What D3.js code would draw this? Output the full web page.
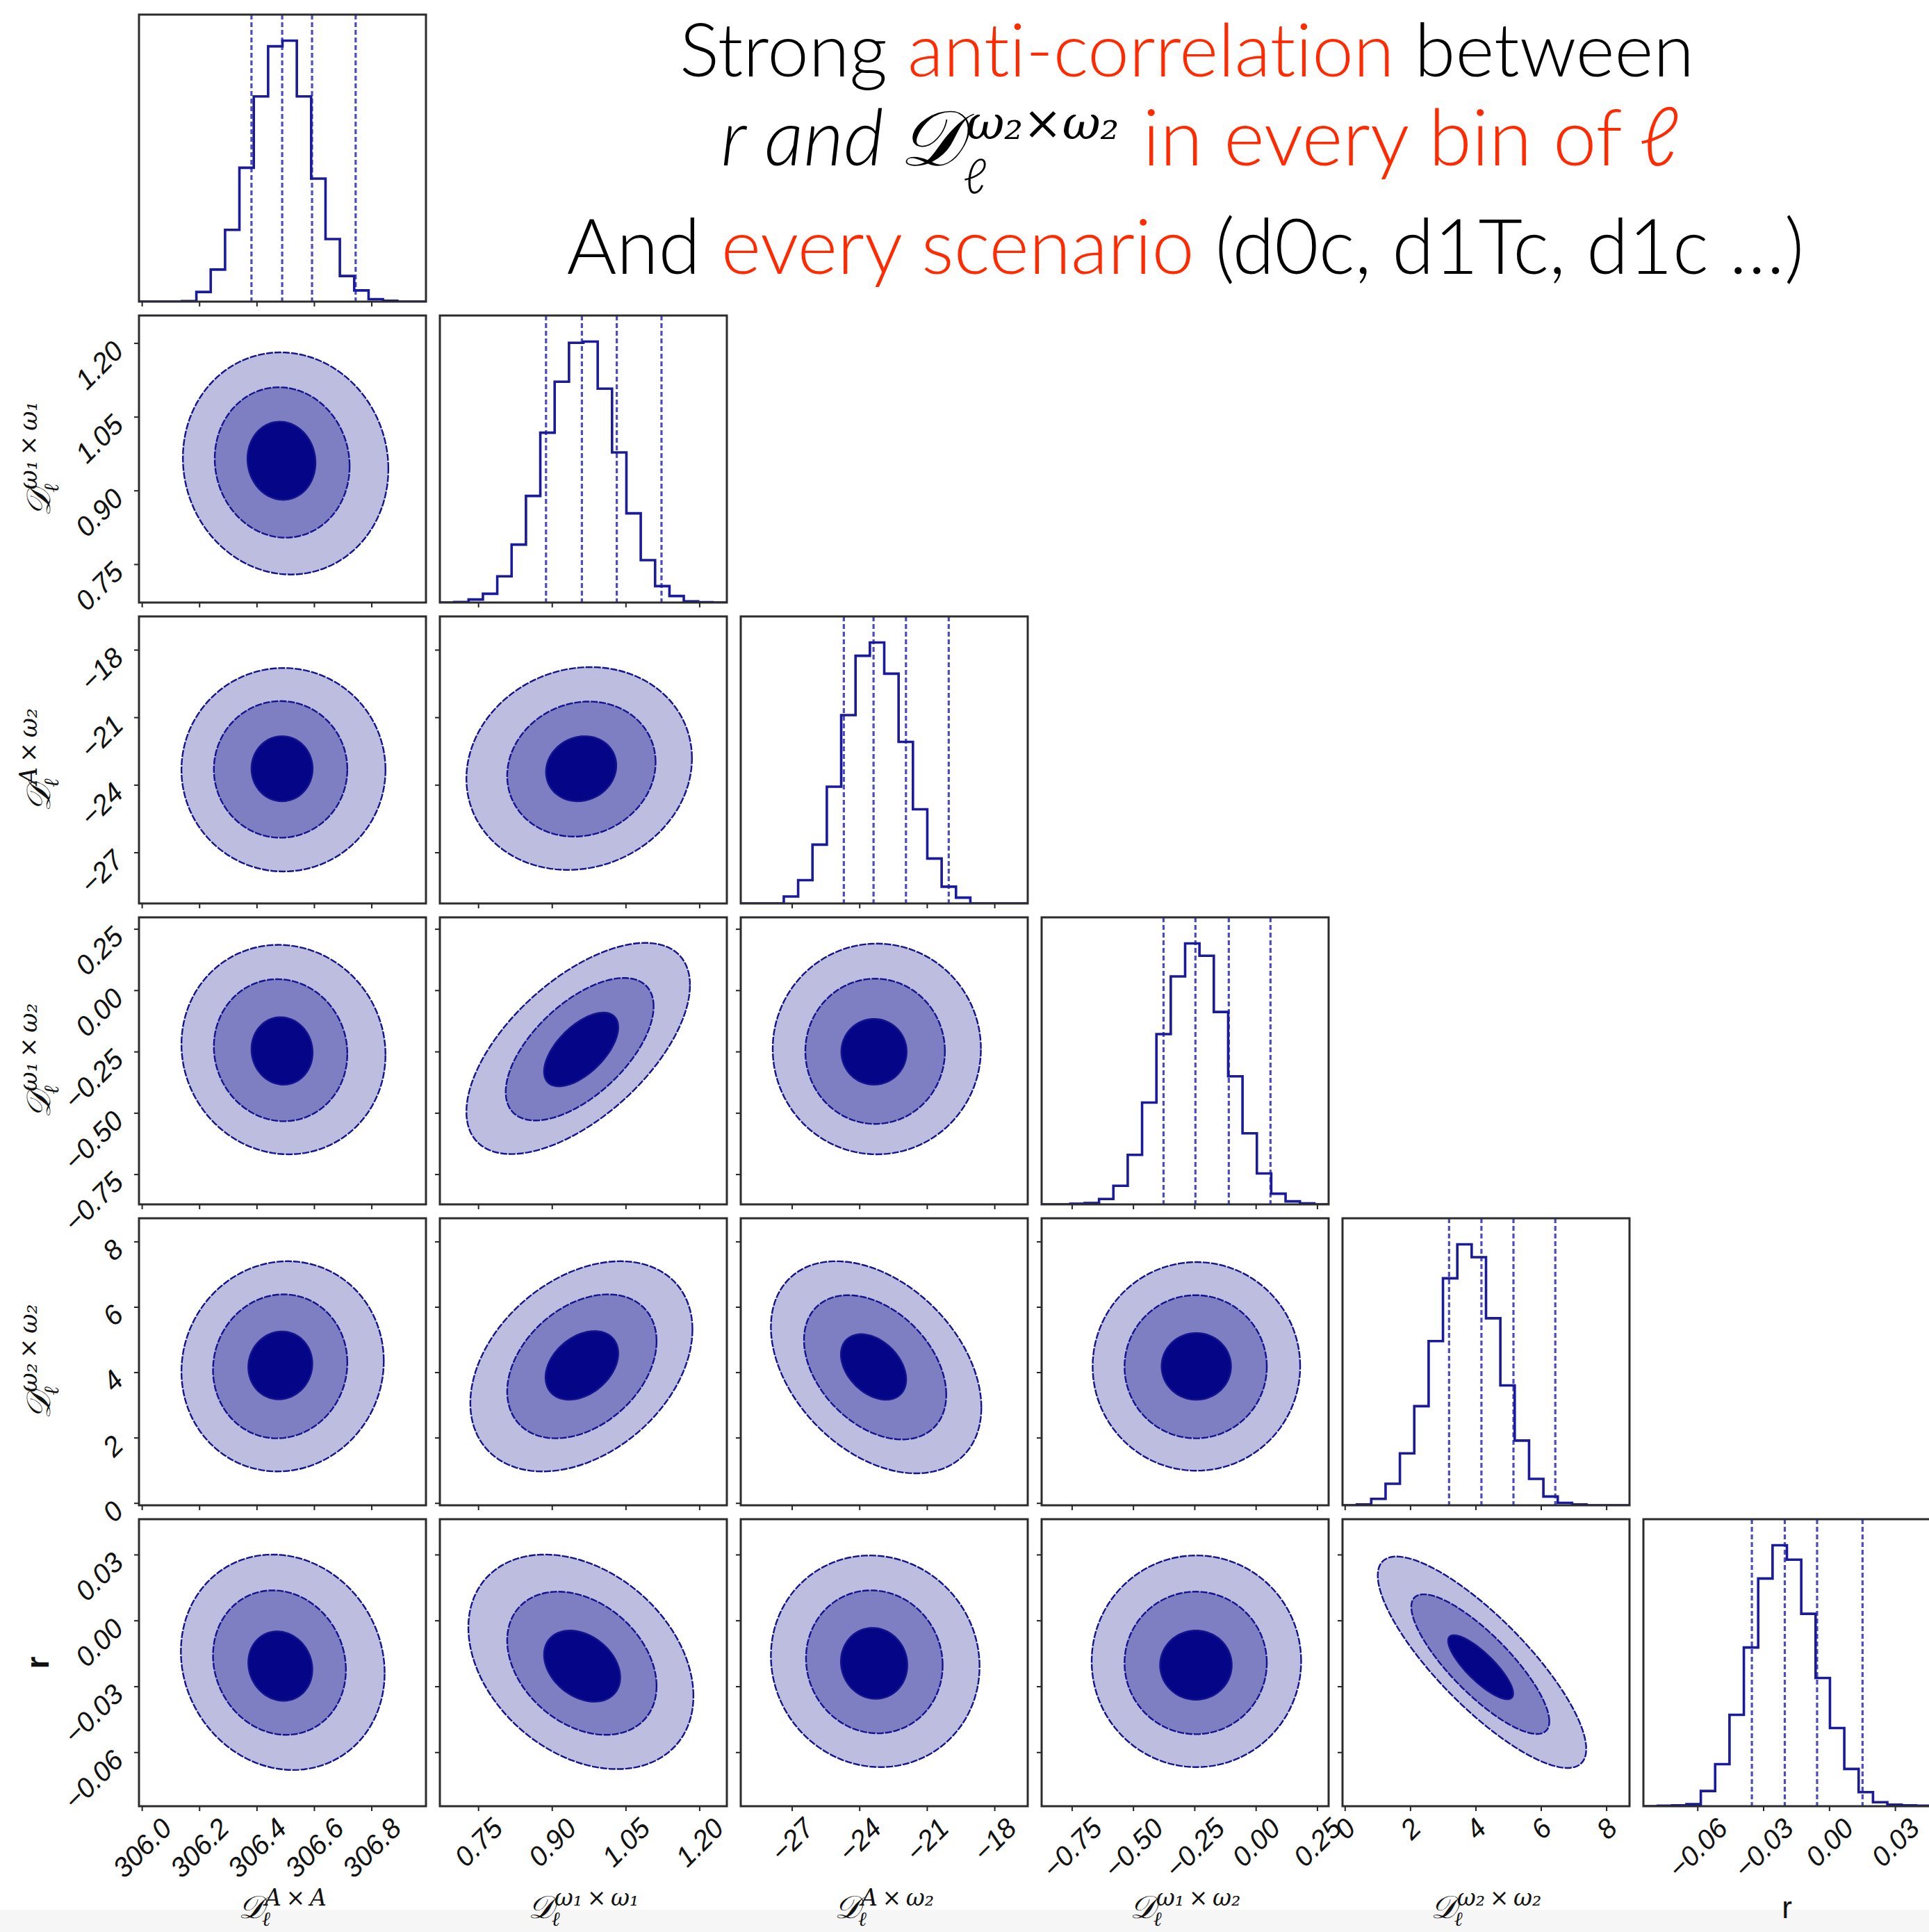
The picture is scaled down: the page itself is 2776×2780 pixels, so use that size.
<!DOCTYPE html>
<html>
<head>
<meta charset="utf-8">
<script src="https://cdn.jsdelivr.net/npm/d3@7"></script>
<style>
  html, body { margin: 0; padding: 0; background: #ffffff; }
  svg { display: block; }
  text { font-variant-ligatures: none; }
</style>
</head>
<body>
<svg id="fig" width="2776" height="2780"></svg>
<script>
// ---------------- data ----------------
// parameter order: D^{AxA}, D^{w1xw1}, D^{Axw2}, D^{w1xw2}, D^{w2xw2}, r
const axisRanges = [
  [305.99, 306.99],
  [0.672, 1.256],
  [-29.27, -16.52],
  [-0.873, 0.297],
  [-0.07, 8.71],
  [-0.0846, 0.0461]
];

const tickValues = [
  [306.0, 306.2, 306.4, 306.6, 306.8],
  [0.75, 0.90, 1.05, 1.20],
  [-27, -24, -21, -18],
  [-0.75, -0.50, -0.25, 0.00, 0.25],
  [0, 2, 4, 6, 8],
  [-0.06, -0.03, 0.00, 0.03]
];

const tickLabels = [
  ["306.0", "306.2", "306.4", "306.6", "306.8"],
  ["0.75", "0.90", "1.05", "1.20"],
  ["\u221227", "\u221224", "\u221221", "\u221218"],
  ["\u22120.75", "\u22120.50", "\u22120.25", "0.00", "0.25"],
  ["0", "2", "4", "6", "8"],
  ["\u22120.06", "\u22120.03", "0.00", "0.03"]
];

// superscripts of the D_l labels; the last parameter is plain "r"
const labelSup = ["A\u2009\u00d7\u2009A", "\u03c9\u2081\u2009\u00d7\u2009\u03c9\u2081", "A\u2009\u00d7\u2009\u03c9\u2082",
                  "\u03c9\u2081\u2009\u00d7\u2009\u03c9\u2082", "\u03c9\u2082\u2009\u00d7\u2009\u03c9\u2082", null];

// 1D marginals: 20 equal bins spanning each axis range
const histCounts = [
  [0, 0, 0, 1, 24, 80, 179, 334, 512, 637, 651, 512, 307, 156, 64, 28, 6, 2, 0, 0],
  [0, 2, 13, 38, 113, 250, 460, 733, 953, 1121, 1126, 923, 648, 385, 183, 71, 28, 5, 1, 0],
  [0, 0, 0, 30, 100, 253, 502, 810, 1065, 1122, 988, 695, 405, 193, 72, 25, 0, 0, 0, 0],
  [0, 0, 3, 6, 23, 80, 213, 438, 733, 981, 1123, 1070, 828, 551, 306, 133, 46, 13, 4, 0],
  [0, 2, 16, 54, 130, 248, 411, 568, 653, 621, 468, 300, 162, 66, 22, 6, 2, 0, 0, 0],
  [0, 1, 2, 5, 38, 105, 228, 396, 568, 651, 615, 480, 320, 195, 93, 35, 10, 4, 2, 1]
];

// vertical marker lines on each marginal
const histQuantiles = [
  [306.382, 306.489, 306.593, 306.745],
  [0.888, 0.961, 1.032, 1.123],
  [-24.69, -23.37, -21.93, -20.03],
  [-0.376, -0.246, -0.110, 0.060],
  [3.19, 4.18, 5.16, 6.44],
  [-0.0352, -0.0202, -0.0055, 0.0152]
];

// 2D panels: [row (y parameter), column (x parameter), correlation]
const contourCells = [
  [1, 0, -0.05],
  [2, 0, 0.0], [2, 1, 0.1],
  [3, 0, -0.05], [3, 1, 0.6], [3, 2, 0.0],
  [4, 0, 0.05], [4, 1, 0.35], [4, 2, -0.38], [4, 3, 0.0],
  [5, 0, -0.1], [5, 1, -0.32], [5, 2, -0.05], [5, 3, 0.0], [5, 4, -0.82]
];

// extents of each credible region: [xmin, xmax, ymin, ymax]
const outerBoxes = [
  [306.143, 306.859, 0.729, 1.181],
  [306.138, 306.849, -27.85, -18.81], [0.726, 1.185, -27.78, -18.77],
  [306.138, 306.849, -0.669, 0.185], [0.726, 1.181, -0.668, 0.193], [-27.85, -18.60, -0.669, 0.190],
  [306.138, 306.843, 0.965, 7.396], [0.734, 1.186, 0.965, 7.396], [-27.93, -18.58, 0.906, 7.396], [-0.665, 0.181, 0.988, 7.37],
  [306.136, 306.846, -0.0681, 0.0300], [0.730, 1.188, -0.0677, 0.0300], [-27.93, -18.66, -0.0668, 0.0296],
  [-0.669, 0.185, -0.0668, 0.0296], [1.008, 7.386, -0.0672, 0.0291]
];
const midBoxes = [
  [306.254, 306.724, 0.804, 1.110],
  [306.251, 306.716, -26.35, -20.28], [0.809, 1.111, -26.30, -20.30],
  [306.251, 306.716, -0.534, 0.045], [0.806, 1.107, -0.531, 0.050], [-26.40, -20.20, -0.545, 0.047],
  [306.248, 306.716, 1.979, 6.382], [0.809, 1.113, 1.979, 6.382], [-26.46, -20.14, 1.944, 6.357], [-0.535, 0.045, 1.979, 6.357],
  [306.248, 306.711, -0.0521, 0.0137], [0.809, 1.113, -0.0521, 0.0131], [-26.37, -20.30, -0.0514, 0.0137],
  [-0.535, 0.045, -0.0518, 0.0131], [2.035, 6.257, -0.0517, 0.0119]
];
const innerBoxes = [
  [306.368, 306.605, 0.881, 1.040],
  [306.382, 306.595, -24.73, -21.84], [0.888, 1.031, -24.73, -21.84],
  [306.382, 306.595, -0.385, -0.110], [0.884, 1.035, -0.392, -0.091], [-24.80, -21.90, -0.385, -0.117],
  [306.371, 306.594, 3.172, 5.247], [0.887, 1.035, 3.16, 5.26], [-24.82, -21.92, 3.159, 5.164], [-0.384, -0.101, 3.159, 5.2],
  [306.371, 306.594, -0.0366, -0.0050], [0.884, 1.039, -0.0370, -0.0046], [-24.82, -21.87, -0.0357, -0.0034],
  [-0.390, -0.098, -0.0361, -0.0046], [3.161, 5.151, -0.0359, -0.0067]
];

// ---------------- layout & style ----------------
const W = 2776, H = 2780;
const gridLeft = 200, gridTop = 21, cell = 413, step = 433;
const nParam = axisRanges.length;
const red = "#ff2a00";
const fillColors = ["#bdbddf", "#7e7fc3", "#050587"];
const lineBlue = "#14148f";
const tickFont = "'Liberation Sans', Arial, sans-serif";
const tickSize = 40;
const mathFont = "'DejaVu Serif', 'Liberation Serif', serif";
const ellFont = "'Liberation Serif', 'DejaVu Serif', serif";
const titleFont = "Lato, 'Open Sans', 'Noto Sans', sans-serif";

const svg = d3.select("#fig");
svg.append("rect").attr("width", W).attr("height", H).attr("fill", "#ffffff");
svg.append("rect").attr("x", 0).attr("y", 2748).attr("width", W).attr("height", H - 2748).attr("fill", "#f6f6f6");

const defs = svg.append("defs");

function xScale(j) {
  const x0 = gridLeft + j * step;
  return d3.scaleLinear().domain(axisRanges[j]).range([x0, x0 + cell]);
}
function yScale(i) {
  const y0 = gridTop + i * step;
  return d3.scaleLinear().domain(axisRanges[i]).range([y0 + cell, y0]);
}

// ---------------- 2D panels ----------------
function ellipsePath(box, rho, xs, ys) {
  const cx = (xs(box[0]) + xs(box[1])) / 2, hx = (xs(box[1]) - xs(box[0])) / 2;
  const cy = (ys(box[2]) + ys(box[3])) / 2, hy = (ys(box[2]) - ys(box[3])) / 2;
  const s = Math.sqrt(1 - rho * rho);
  const pts = d3.range(120).map(k => {
    const t = 2 * Math.PI * k / 120;
    return [cx + hx * Math.cos(t), cy - hy * (rho * Math.cos(t) + s * Math.sin(t))];
  });
  return d3.line().curve(d3.curveLinearClosed)(pts);
}

contourCells.forEach((c, idx) => {
  const [i, j, rho] = c;
  const xs = xScale(j), ys = yScale(i);
  const x0 = gridLeft + j * step, y0 = gridTop + i * step;
  const clipId = `clip-${i}-${j}`;
  defs.append("clipPath").attr("id", clipId)
    .append("rect").attr("x", x0).attr("y", y0).attr("width", cell).attr("height", cell);
  const g = svg.append("g").attr("clip-path", `url(#${clipId})`);
  [outerBoxes[idx], midBoxes[idx], innerBoxes[idx]].forEach((box, k) => {
    g.append("path")
      .attr("d", ellipsePath(box, rho, xs, ys))
      .attr("fill", fillColors[k])
      .attr("stroke", lineBlue)
      .attr("stroke-width", 2.4)
      .attr("stroke-dasharray", k === 2 ? null : "10,2");
  });
});

// ---------------- 1D marginals ----------------
for (let j = 0; j < nParam; j++) {
  const xs = xScale(j);
  const x0 = gridLeft + j * step, y0 = gridTop + j * step;
  const counts = histCounts[j];
  const n = counts.length;
  const [lo, hi] = axisRanges[j];
  const edges = d3.range(n + 1).map(k => lo + (hi - lo) * k / n);
  const ys = d3.scaleLinear().domain([0, 1.1 * d3.max(counts)]).range([y0 + cell, y0]);
  const pts = [[edges[0], 0]];
  counts.forEach((v, k) => { pts.push([edges[k], v]); pts.push([edges[k + 1], v]); });
  pts.push([edges[n], 0]);
  const clipId = `clip-h-${j}`;
  defs.append("clipPath").attr("id", clipId)
    .append("rect").attr("x", x0).attr("y", y0).attr("width", cell).attr("height", cell);
  const g = svg.append("g").attr("clip-path", `url(#${clipId})`);
  histQuantiles[j].forEach(q => {
    g.append("line")
      .attr("x1", xs(q)).attr("x2", xs(q)).attr("y1", y0).attr("y2", y0 + cell)
      .attr("stroke", "#2f2fb6").attr("stroke-width", 3.2)
      .attr("stroke-dasharray", "7,4").attr("opacity", 0.85);
  });
  g.append("path")
    .attr("d", d3.line().x(d => xs(d[0])).y(d => ys(d[1]))(pts))
    .attr("fill", "none").attr("stroke", "#1a1a9c").attr("stroke-width", 3.6);
}

// ---------------- frames, ticks, tick labels ----------------
function tickLabel(parent, text) {
  return parent.append("text").text(text)
    .attr("font-family", tickFont).attr("font-style", "italic")
    .attr("font-size", tickSize).attr("fill", "#111").attr("text-anchor", "end");
}

for (let i = 0; i < nParam; i++) {
  for (let j = 0; j <= i; j++) {
    const x0 = gridLeft + j * step, y0 = gridTop + i * step;
    const xs = xScale(j);
    const gb = svg.append("g").attr("transform", `translate(0,${y0 + cell})`)
      .call(d3.axisBottom(xs).tickValues(tickValues[j]).tickSizeInner(7).tickSizeOuter(0).tickFormat(""));
    gb.select(".domain").remove();
    gb.selectAll(".tick line").attr("stroke", "#222").attr("stroke-width", 2);
    if (i !== j) {
      const ys = yScale(i);
      const gl = svg.append("g").attr("transform", `translate(${x0},0)`)
        .call(d3.axisLeft(ys).tickValues(tickValues[i]).tickSizeInner(7).tickSizeOuter(0).tickFormat(""));
      gl.select(".domain").remove();
      gl.selectAll(".tick line").attr("stroke", "#222").attr("stroke-width", 2);
    }
    svg.append("rect").attr("x", x0).attr("y", y0).attr("width", cell).attr("height", cell)
      .attr("fill", "none").attr("stroke", "#2c2c2c").attr("stroke-width", 3);

    // x tick labels on the bottom row
    if (i === nParam - 1) {
      tickValues[j].forEach((v, k) => {
        const t = tickLabel(svg, tickLabels[j][k]);
        const L = t.node().getComputedTextLength();
        const asc = 0.72 * tickSize;
        const ex = xs(v) + 0.3535 * (L + asc);
        const ey = y0 + cell + 14 + 0.707 * asc;
        t.attr("transform", `translate(${ex},${ey}) rotate(-45)`);
      });
    }
    // y tick labels on the first column
    if (j === 0 && i > 0) {
      const ys = yScale(i);
      tickValues[i].forEach((v, k) => {
        const t = tickLabel(svg, tickLabels[i][k]);
        t.attr("transform", `translate(${x0 - 20},${ys(v) + 14}) rotate(-45)`);
      });
    }
  }
}

// ---------------- axis labels ----------------
function mathLabel(parent, sup, fs) {
  const g = parent.append("g");
  const inner = g.append("g");
  const d = inner.append("text").text("\ud835\udc9f")
    .attr("font-family", mathFont).attr("font-style", "italic")
    .attr("font-size", fs).attr("fill", "#111");
  const dw = d.node().getComputedTextLength();
  const s = inner.append("text").text(sup)
    .attr("x", dw + 1).attr("y", -fs * 0.4)
    .attr("font-family", mathFont).attr("font-style", "italic")
    .attr("font-size", fs * 0.72).attr("fill", "#111");
  inner.append("text").text("\u2113")
    .attr("x", dw - 3).attr("y", fs * 0.24)
    .attr("font-family", ellFont).attr("font-style", "italic")
    .attr("font-size", fs * 0.62).attr("fill", "#111");
  const w = dw + 1 + s.node().getComputedTextLength();
  inner.attr("transform", `translate(${-w / 2},0)`);
  return g;
}

for (let j = 0; j < nParam; j++) {
  const cx = gridLeft + j * step + cell / 2;
  if (labelSup[j]) {
    mathLabel(svg, labelSup[j], 46).attr("transform", `translate(${cx},2760)`);
  } else {
    svg.append("text").text("r").attr("x", cx).attr("y", 2760)
      .attr("text-anchor", "middle").attr("font-family", tickFont)
      .attr("font-size", 44).attr("fill", "#111");
  }
}
for (let i = 1; i < nParam; i++) {
  const cy = gridTop + i * step + cell / 2;
  if (labelSup[i]) {
    mathLabel(svg, labelSup[i], 48).attr("transform", `translate(72,${cy}) rotate(-90)`);
  } else {
    svg.append("text").text("r")
      .attr("transform", `translate(70,${cy}) rotate(-90)`)
      .attr("text-anchor", "middle").attr("font-family", tickFont)
      .attr("font-weight", "bold").attr("font-size", 46).attr("fill", "#111");
  }
}

// ---------------- title ----------------
function fitLine(y, cx, targetWidth, pieces) {
  const t = svg.append("text").attr("y", y).attr("x", cx).attr("text-anchor", "middle")
    .attr("font-family", titleFont).attr("font-weight", 300).attr("font-size", 100);
  pieces.forEach(([txt, col]) => t.append("tspan").text(txt).attr("fill", col));
  const w = t.node().getComputedTextLength();
  const fs = 100 * targetWidth / w;
  t.attr("font-size", fs);
  return fs;
}
const fs1 = fitLine(110, 1708, 1460, [["Strong ", "#000"], ["anti-correlation", red], [" between", "#000"]]);
fitLine(394, 1706, 1781, [["And ", "#000"], ["every scenario", red], [" (d0c, d1Tc, d1c \u2026)", "#000"]]);

// second line: r and D_l^{w2 x w2} in every bin of l
(function () {
  const fs = fs1 * 1.05;
  const g = svg.append("g");
  let cur = 0;
  const a = g.append("text").text("r and").attr("x", cur)
    .attr("font-family", titleFont).attr("font-weight", 300).attr("font-style", "italic")
    .attr("font-size", fs).attr("fill", "#000");
  cur += a.node().getComputedTextLength() + fs * 0.2;
  const d = g.append("text").text("\ud835\udc9f").attr("x", cur)
    .attr("font-family", mathFont).attr("font-style", "italic")
    .attr("font-size", fs * 1.0).attr("fill", "#000");
  cur += d.node().getComputedTextLength();
  const s = g.append("text").text("\u03c9\u2082\u00d7\u03c9\u2082").attr("x", cur + 6).attr("y", -38)
    .attr("font-family", mathFont).attr("font-style", "italic")
    .attr("font-size", fs * 0.6).attr("fill", "#000");
  g.append("text").text("\u2113").attr("x", cur + 2).attr("y", 40)
    .attr("font-family", titleFont).attr("font-weight", 300).attr("font-style", "italic")
    .attr("font-size", fs * 0.62).attr("fill", "#000");
  cur += 6 + s.node().getComputedTextLength() + fs * 0.3;
  const b = g.append("text").text("in every bin of").attr("x", cur)
    .attr("font-family", titleFont).attr("font-weight", 300)
    .attr("font-size", fs).attr("fill", red);
  cur += b.node().getComputedTextLength() + fs * 0.22;
  const l = g.append("text").text("\u2113").attr("x", cur)
    .attr("font-family", titleFont).attr("font-weight", 300).attr("font-style", "italic")
    .attr("font-size", fs * 1.05).attr("fill", red);
  cur += l.node().getComputedTextLength();
  g.attr("transform", `translate(${1726 - cur / 2},238)`);
})();
</script>
</body>
</html>
